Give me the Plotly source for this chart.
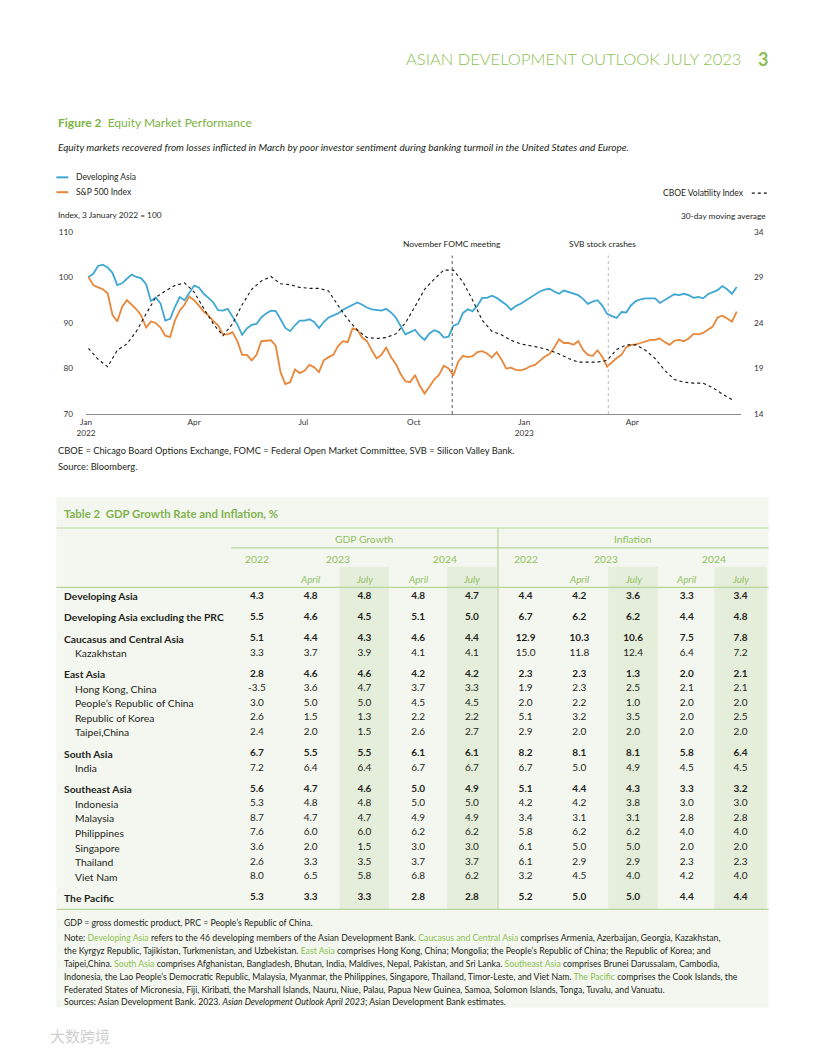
import plotly.graph_objects as go
import pandas as pd

# ---------------- Figure 2 data ----------------
equity_dates = pd.date_range("2022-01-03", periods=136, freq="4D")
developing_asia = [
    100.1, 100.8, 102.5, 102.8, 102.2, 101.0, 98.3, 98.7, 99.7, 100.6,
    100.1, 99.8, 98.5, 94.8, 95.6, 94.3, 90.5, 90.9, 93.5, 95.7,
    95.0, 96.6, 98.2, 97.8, 96.4, 95.5, 94.5, 92.8, 92.7, 93.1,
    91.5, 89.7, 87.4, 88.8, 89.6, 89.8, 91.2, 92.1, 92.7, 92.6,
    90.8, 88.9, 88.2, 89.5, 90.5, 90.5, 90.8, 90.2, 88.9, 90.2,
    91.2, 91.6, 92.1, 92.9, 93.4, 94.0, 94.5, 94.0, 93.4, 93.0,
    92.8, 92.7, 93.1, 92.3, 91.2, 89.5, 87.5, 88.0, 88.5, 87.2,
    86.3, 87.7, 88.4, 88.0, 86.8, 87.0, 89.4, 89.8, 92.2, 93.0,
    92.6, 93.8, 95.5, 95.5, 96.0, 95.5, 94.7, 94.0, 92.9, 93.7,
    94.2, 94.9, 95.5, 96.2, 96.9, 97.3, 97.5, 96.9, 96.4, 97.1,
    96.8, 96.5, 96.1, 95.3, 94.2, 94.7, 95.0, 93.8, 92.0, 91.5,
    91.1, 92.4, 92.3, 93.9, 94.8, 95.2, 95.4, 95.4, 95.4, 94.4,
    95.0, 95.7, 96.3, 96.1, 96.4, 96.1, 95.5, 95.7, 95.4, 96.3,
    96.8, 97.2, 98.1, 97.4, 96.4, 97.9,
]
sp500_index = [
    100.1, 98.3, 97.8, 97.4, 96.5, 91.8, 90.3, 93.5, 95.0, 94.0,
    93.0, 91.6, 89.0, 90.3, 90.0, 89.0, 87.2, 86.9, 90.5, 92.7,
    94.0, 95.8, 95.0, 93.8, 92.5, 91.6, 90.4, 89.5, 87.5, 87.5,
    88.0, 86.0, 83.0, 83.0, 81.8, 83.0, 86.0, 86.1, 86.2, 85.0,
    79.2, 76.6, 77.0, 79.8, 79.0, 79.5, 80.8, 80.3, 79.2, 81.8,
    82.5, 83.0, 85.0, 86.0, 85.8, 88.8, 88.5, 86.8, 86.0, 84.0,
    82.2, 83.0, 84.6, 82.5, 81.0, 78.8, 77.2, 77.0, 78.6, 76.2,
    74.5, 76.0, 77.6, 78.6, 80.6, 80.0, 78.5, 81.5, 82.8, 82.5,
    82.7, 83.6, 83.8, 83.3, 82.4, 83.6, 82.0, 80.0, 80.2, 79.7,
    79.6, 79.9, 80.5, 80.8, 81.8, 82.6, 83.2, 84.6, 86.4, 85.6,
    85.6, 85.2, 86.0, 84.1, 83.0, 82.8, 84.0, 82.6, 80.4, 81.4,
    82.3, 83.0, 84.7, 85.2, 85.3, 85.6, 86.0, 86.3, 86.3, 86.6,
    85.8, 85.2, 86.1, 86.3, 86.0, 86.6, 87.6, 87.5, 87.8, 88.6,
    89.2, 91.2, 91.6, 91.0, 90.3, 92.5,
]
vix_dates = pd.date_range("2022-01-03", periods=68, freq="8D")
cboe_vix_30d = [
    21.2, 20.0, 19.2, 21.0, 21.7, 23.1, 25.0, 26.8, 27.5, 28.1,
    28.4, 27.4, 25.6, 23.9, 22.6, 23.9, 26.0, 27.7, 28.6, 29.1,
    28.3, 28.2, 27.9, 27.8, 27.8, 27.5, 25.9, 24.4, 23.2, 22.4,
    22.3, 22.4, 22.8, 24.0, 25.8, 27.7, 28.8, 29.8, 29.8, 28.5,
    26.5, 24.3, 23.1, 22.7, 22.1, 21.7, 21.5, 21.3, 21.0, 20.6,
    20.1, 19.7, 19.7, 19.7, 19.9, 21.1, 21.6, 21.6, 21.0, 20.1,
    18.8, 17.8, 17.5, 17.4, 17.4, 16.9, 16.2, 15.6,
]
x_tick_dates = ["2022-01-01", "2022-04-01", "2022-07-01", "2022-10-01", "2023-01-01", "2023-04-01"]
x_tick_labels = ["Jan<br>2022", "Apr", "Jul", "Oct", "Jan<br>2023", "Apr"]
left_ticks = [70, 80, 90, 100, 110]
right_ticks = [14, 19, 24, 29, 34]
event_dates = ["2022-11-02", "2023-03-12"]
event_labels = ["November FOMC meeting", "SVB stock crashes"]

# ---------------- Table 2 data ----------------
row_labels = [
    "Developing Asia", "Developing Asia excluding the PRC", "Caucasus and Central Asia",
    "Kazakhstan", "East Asia", "Hong Kong, China", "People’s Republic of China",
    "Republic of Korea", "Taipei,China", "South Asia", "India", "Southeast Asia",
    "Indonesia", "Malaysia", "Philippines", "Singapore", "Thailand", "Viet Nam", "The Pacific",
]
row_is_region = [True, True, True, False, True, False, False, False, False, True,
                 False, True, False, False, False, False, False, False, True]
gdp_2022 = [4.3, 5.5, 5.1, 3.3, 2.8, -3.5, 3.0, 2.6, 2.4, 6.7, 7.2, 5.6, 5.3, 8.7, 7.6, 3.6, 2.6, 8.0, 5.3]
gdp_2023_apr = [4.8, 4.6, 4.4, 3.7, 4.6, 3.6, 5.0, 1.5, 2.0, 5.5, 6.4, 4.7, 4.8, 4.7, 6.0, 2.0, 3.3, 6.5, 3.3]
gdp_2023_jul = [4.8, 4.5, 4.3, 3.9, 4.6, 4.7, 5.0, 1.3, 1.5, 5.5, 6.4, 4.6, 4.8, 4.7, 6.0, 1.5, 3.5, 5.8, 3.3]
gdp_2024_apr = [4.8, 5.1, 4.6, 4.1, 4.2, 3.7, 4.5, 2.2, 2.6, 6.1, 6.7, 5.0, 5.0, 4.9, 6.2, 3.0, 3.7, 6.8, 2.8]
gdp_2024_jul = [4.7, 5.0, 4.4, 4.1, 4.2, 3.3, 4.5, 2.2, 2.7, 6.1, 6.7, 4.9, 5.0, 4.9, 6.2, 3.0, 3.7, 6.2, 2.8]
inf_2022 = [4.4, 6.7, 12.9, 15.0, 2.3, 1.9, 2.0, 5.1, 2.9, 8.2, 6.7, 5.1, 4.2, 3.4, 5.8, 6.1, 6.1, 3.2, 5.2]
inf_2023_apr = [4.2, 6.2, 10.3, 11.8, 2.3, 2.3, 2.2, 3.2, 2.0, 8.1, 5.0, 4.4, 4.2, 3.1, 6.2, 5.0, 2.9, 4.5, 5.0]
inf_2023_jul = [3.6, 6.2, 10.6, 12.4, 1.3, 2.5, 1.0, 3.5, 2.0, 8.1, 4.9, 4.3, 3.8, 3.1, 6.2, 5.0, 2.9, 4.0, 5.0]
inf_2024_apr = [3.3, 4.4, 7.5, 6.4, 2.0, 2.1, 2.0, 2.0, 2.0, 5.8, 4.5, 3.3, 3.0, 2.8, 4.0, 2.0, 2.3, 4.2, 4.4]
inf_2024_jul = [3.4, 4.8, 7.8, 7.2, 2.1, 2.1, 2.0, 2.5, 2.0, 6.4, 4.5, 3.2, 3.0, 2.8, 4.0, 2.0, 2.3, 4.0, 4.4]
table_columns = [gdp_2022, gdp_2023_apr, gdp_2023_jul, gdp_2024_apr, gdp_2024_jul,
                 inf_2022, inf_2023_apr, inf_2023_jul, inf_2024_apr, inf_2024_jul]
group_headers = ["GDP Growth", "Inflation"]
year_headers = ["2022", "2023", "2024", "2022", "2023", "2024"]
vintage_headers = ["", "April", "July", "April", "July", "", "April", "July", "April", "July"]

# ---------------- styling ----------------
W, H = 816, 1056
FONT = "Lato, Open Sans, sans-serif"
DARK = "#231f20"
BLUE = "#3ea7d2"
ORANGE = "#e8873a"
GREEN = "#7cb342"
GREEN_LIGHT = "#8fbf5e"
RULE = "#b9d59c"


def PX(x):
    return x / W


def PY(y):
    return 1 - y / H


fig = go.Figure()

# chart traces
fig.add_trace(go.Scatter(x=equity_dates, y=developing_asia, mode="lines", name="Developing Asia",
                         line=dict(color=BLUE, width=1.8), xaxis="x", yaxis="y", hoverinfo="skip"))
fig.add_trace(go.Scatter(x=equity_dates, y=sp500_index, mode="lines", name="S&P 500 Index",
                         line=dict(color=ORANGE, width=1.8), xaxis="x", yaxis="y", hoverinfo="skip"))
fig.add_trace(go.Scatter(x=vix_dates, y=cboe_vix_30d, mode="lines", name="CBOE Volatility Index",
                         line=dict(color="#111111", width=1.1, dash="dot"), xaxis="x", yaxis="y2",
                         hoverinfo="skip"))

# table: row positions (regional aggregates get a little extra space above)
row_pos = []
pos = 0.0
for i, reg in enumerate(row_is_region):
    if i > 0:
        pos += 1.45 if reg else 1.0
    row_pos.append(pos)

for j, col in enumerate(table_columns):
    txt = [f"<b>{v:.1f}</b>" if reg else f"{v:.1f}" for v, reg in zip(col, row_is_region)]
    fig.add_trace(go.Scatter(x=[j] * len(col), y=row_pos, mode="text", text=txt,
                             textposition="middle center",
                             textfont=dict(family=FONT, size=10, color=DARK),
                             xaxis="x2", yaxis="y3", hoverinfo="skip"))

ROW0_PX, ROW_UNIT = 597, 14.7
COL0_PX, COL_UNIT = 250, 54.4

annotations = []
shapes = []


def ann(text, x, y, size=9, color=DARK, xanchor="left", xref="paper", yref="paper", **kw):
    fam = kw.pop("family", FONT)
    weight = kw.pop("weight", None)
    font = dict(family=fam, size=size, color=color)
    if weight:
        font["weight"] = weight
    annotations.append(dict(text=text, x=x, y=y, xref=xref, yref=yref, xanchor=xanchor,
                            yanchor="middle", showarrow=False, font=font, **kw))


# page header
ann("ASIAN DEVELOPMENT OUTLOOK JULY 2023", PX(742), PY(55), size=16.5, color="#8cc152",
    xanchor="right", weight=300)
ann("<b>3</b>", PX(762), PY(55), size=18, color="#8cc152", xanchor="center")

# figure title
ann("<b>Figure 2</b>  Equity Market Performance", PX(47), PY(119), size=12, color=GREEN)
ann("<i>Equity markets recovered from losses inflicted in March by poor investor sentiment during banking turmoil in the United States and Europe.</i>",
    PX(47), PY(143), size=10)

# legend
shapes.append(dict(type="line", xref="paper", yref="paper", x0=PX(47), x1=PX(59), y0=PY(174), y1=PY(174),
                   line=dict(color=BLUE, width=2)))
shapes.append(dict(type="line", xref="paper", yref="paper", x0=PX(47), x1=PX(59), y0=PY(189), y1=PY(189),
                   line=dict(color=ORANGE, width=2)))
ann("Developing Asia", PX(65), PY(174), size=8.5)
ann("S&P 500 Index", PX(65), PY(189), size=8.5)
ann("CBOE Volatility Index", PX(745), PY(190), size=8.5, xanchor="right")
shapes.append(dict(type="line", xref="paper", yref="paper", x0=PX(751), x1=PX(767), y0=PY(190), y1=PY(190),
                   line=dict(color="#111111", width=1.2, dash="dot")))
ann("Index, 3 January 2022 = 100", PX(47), PY(212), size=8.3)
ann("30-day moving average", PX(767), PY(213), size=8.3, xanchor="right")

# event markers
event_colors = ["#555555", "#b8b8b8"]
event_shift = [0, -6]
for d, lab, c, sh in zip(event_dates, event_labels, event_colors, event_shift):
    shapes.append(dict(type="line", xref="x", yref="paper", x0=d, x1=d, y0=PY(413), y1=PY(253),
                       line=dict(color=c, width=1, dash="dot")))
    ann(lab, d, PY(241), size=8.4, xanchor="center", xref="x", xshift=sh)

# chart footnotes
ann("CBOE = Chicago Board Options Exchange, FOMC = Federal Open Market Committee, SVB = Silicon Valley Bank.",
    PX(47), PY(450), size=9.3)
ann("Source: Bloomberg.", PX(47), PY(466), size=9.3)

# table background and July shading
shapes.append(dict(type="rect", xref="paper", yref="paper", x0=PX(47), x1=PX(768), y0=PY(1012), y1=PY(497),
                   fillcolor="#f4f7ef", line=dict(width=0), layer="below"))
for j, v in enumerate(vintage_headers):
    if v == "July":
        half = 0.49 if j == 9 else 0.46
        shapes.append(dict(type="rect", xref="x2", yref="paper", x0=j - half, x1=j + half,
                           y0=PY(913), y1=PY(567), fillcolor="#e5eedb", line=dict(width=0), layer="below"))
for y0, xa in [(528, 47), (548, 224), (588, 47), (913, 47)]:
    shapes.append(dict(type="line", xref="paper", yref="paper", x0=PX(xa), x1=PX(768), y0=PY(y0), y1=PY(y0),
                       line=dict(color=RULE, width=1.2)))
shapes.append(dict(type="line", xref="paper", yref="paper", x0=PX(494), x1=PX(494), y0=PY(913), y1=PY(528),
                   line=dict(color=RULE, width=1.2)))

# table title and headers
ann("<b>Table 2  GDP Growth Rate and Inflation, %</b>", PX(53), PY(513), size=11.4, color="#82b24e")
for g, xc in zip(group_headers, [2, 7]):
    ann(g, xc, PY(539), size=10.3, color=GREEN_LIGHT, xanchor="center", xref="x2")
for yl, xc in zip(year_headers, [0, 1.5, 3.5, 5, 6.5, 8.5]):
    ann(yl, xc, PY(559), size=10.3, color=GREEN_LIGHT, xanchor="center", xref="x2")
for j, v in enumerate(vintage_headers):
    if v:
        ann(f"<i>{v}</i>", j, PY(579), size=9.8, color=GREEN_LIGHT, xanchor="center", xref="x2")

# row labels
for lab, reg, yp in zip(row_labels, row_is_region, row_pos):
    xl = (53 - COL0_PX) / COL_UNIT if reg else (64 - COL0_PX) / COL_UNIT
    ann(f"<b>{lab}</b>" if reg else lab, xl, yp, size=10.3, xref="x2", yref="y3")

# notes
G = "#8cc152"
notes = [
    (926, "GDP = gross domestic product, PRC = People’s Republic of China."),
    (941, f"Note: <span style='color:{G}'>Developing Asia</span> refers to the 46 developing members of the Asian Development Bank. <span style='color:{G}'>Caucasus and Central Asia</span> comprises Armenia, Azerbaijan, Georgia, Kazakhstan,"),
    (955, f"the Kyrgyz Republic, Tajikistan, Turkmenistan, and Uzbekistan. <span style='color:{G}'>East Asia</span> comprises Hong Kong, China; Mongolia; the People’s Republic of China; the Republic of Korea; and"),
    (968, f"Taipei,China. <span style='color:{G}'>South Asia</span> comprises Afghanistan, Bangladesh, Bhutan, India, Maldives, Nepal, Pakistan, and Sri Lanka. <span style='color:{G}'>Southeast Asia</span> comprises Brunei Darussalam, Cambodia,"),
    (981, f"Indonesia, the Lao People’s Democratic Republic, Malaysia, Myanmar, the Philippines, Singapore, Thailand, Timor-Leste, and Viet Nam. <span style='color:{G}'>The Pacific</span> comprises the Cook Islands, the"),
    (994, "Federated States of Micronesia, Fiji, Kiribati, the Marshall Islands, Nauru, Niue, Palau, Papua New Guinea, Samoa, Solomon Islands, Tonga, Tuvalu, and Vanuatu."),
    (1006, "Sources: Asian Development Bank. 2023. <i>Asian Development Outlook April 2023</i>; Asian Development Bank estimates."),
]
for yy, t in notes:
    ann(t, PX(53), PY(yy), size=8.7)

# watermark
ann("大数跨境", PX(38), PY(1040), size=15, color="#d0d0d0", family="Noto Sans CJK SC")

axis_font = dict(family=FONT, size=8.2, color="#333333")
fig.update_layout(
    width=W, height=H, margin=dict(l=0, r=0, t=0, b=0),
    paper_bgcolor="white", plot_bgcolor="rgba(0,0,0,0)", showlegend=False,
    xaxis=dict(domain=[PX(77), PX(740)], range=["2022-01-01", "2023-06-30 12:00"], type="date",
               tickvals=x_tick_dates, ticktext=x_tick_labels, showgrid=False, zeroline=False,
               showline=True, linecolor="#8a8a8a", linewidth=1, ticks="", tickfont=axis_font,
               anchor="y", fixedrange=True),
    yaxis=dict(domain=[PY(413), PY(229)], range=[70, 110], tickvals=left_ticks, showgrid=False,
               zeroline=False, ticks="", tickfont=axis_font, ticklabelstandoff=12, anchor="x"),
    yaxis2=dict(overlaying="y", side="right", range=[14, 34], tickvals=right_ticks, showgrid=False,
                zeroline=False, ticks="", tickfont=axis_font, ticklabelstandoff=12, anchor="x"),
    xaxis2=dict(domain=[PX(47), PX(768)],
                range=[(47 - COL0_PX) / COL_UNIT, (768 - COL0_PX) / COL_UNIT],
                visible=False, anchor="y3"),
    yaxis3=dict(domain=[PY(1012), PY(497)],
                range=[(1012 - ROW0_PX) / ROW_UNIT, (497 - ROW0_PX) / ROW_UNIT],
                visible=False, anchor="x2"),
    annotations=annotations, shapes=shapes,
)

fig.write_html("out.html", config={"displayModeBar": False, "staticPlot": True},
               post_script="document.body.style.margin='0';document.body.style.overflow='hidden';")
